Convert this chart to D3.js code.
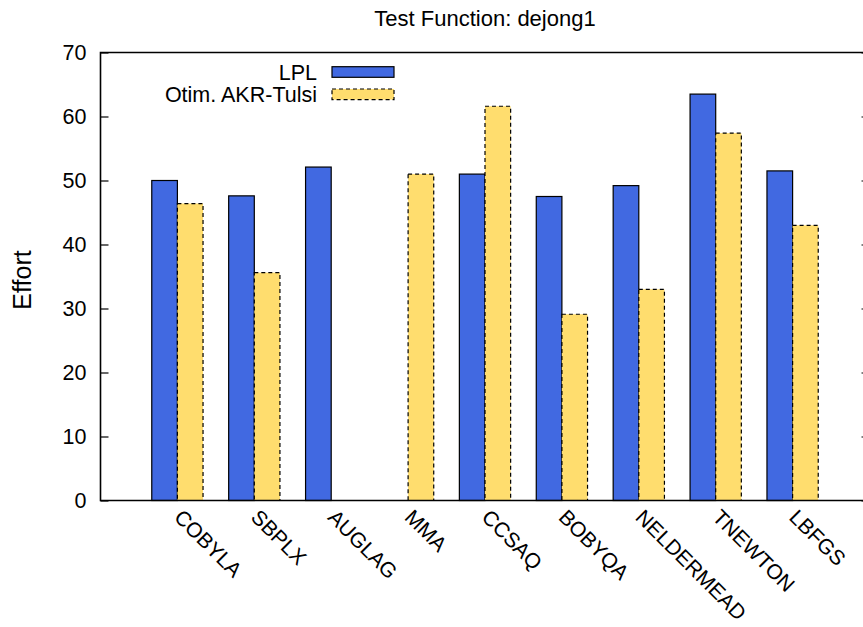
<!DOCTYPE html>
<html>
<head>
<meta charset="utf-8">
<script src="https://cdn.jsdelivr.net/npm/d3@7"></script>
<style>
  html, body { margin: 0; padding: 0; background: #fff; }
  svg { display: block; font-family: "Liberation Sans", Arial, Helvetica, sans-serif; }
</style>
</head>
<body>
<svg id="chart" width="863" height="627"></svg>
<script>
// Optimiser effort on the dejong1 test function
const categories = ["COBYLA", "SBPLX", "AUGLAG", "MMA", "CCSAQ", "BOBYQA", "NELDERMEAD", "TNEWTON", "LBFGS"];
const lplValues  = [50.0, 47.6, 52.1, null, 51.0, 47.5, 49.2, 63.5, 51.5];
const akrValues  = [46.4, 35.6, null, 51.0, 61.6, 29.1, 33.0, 57.4, 43.0];
const seriesNames = ["LPL", "Otim. AKR-Tulsi"];
const yTicks = [0, 10, 20, 30, 40, 50, 60, 70];
const titleText = "Test Function: dejong1";
const yLabelText = "Effort";

const svg = d3.select("#chart");
const plotL = 100.5, plotR = 869.5, plotT = 52.5, plotB = 500.5;

// histogram slots: one unit per category, axis spans [-1, n]
const x = d3.scaleLinear().domain([-1, categories.length]).range([plotL, plotR]);
const y = d3.scaleLinear().domain([0, 70]).range([plotB, plotT]);
const barW = (x(1) - x(0)) / 3;

const series = [
  { name: seriesNames[0], values: lplValues, fill: "#4169E1", dash: null, offset: -1 },
  { name: seriesNames[1], values: akrValues, fill: "#FFDD6E", dash: "4,3", offset: 0 }
];

// bars
series.forEach(s => {
  svg.append("g").selectAll("rect")
    .data(s.values.map((v, i) => ({ v, i })).filter(d => d.v !== null))
    .join("rect")
    .attr("x", d => x(d.i) + s.offset * barW)
    .attr("y", d => y(d.v))
    .attr("width", barW)
    .attr("height", d => y(0) - y(d.v))
    .attr("fill", s.fill)
    .attr("stroke", "#000")
    .attr("stroke-width", 1.2)
    .attr("stroke-dasharray", s.dash);
});

// border: left, bottom, top (right side runs off the canvas)
const border = svg.append("g").attr("stroke", "#000").attr("stroke-width", 1.6).attr("fill", "none");
border.append("path").attr("d", `M${plotR},${plotT}H${plotL}V${plotB}H${plotR}`);
border.append("path").attr("d", `M${plotR},${plotT}V${plotB}`);

// y axis ticks, mirrored on the right
const yAxisL = d3.axisLeft(y).tickValues(yTicks).tickSizeInner(-8).tickSizeOuter(0).tickPadding(14);
const gL = svg.append("g").attr("transform", `translate(${plotL},0)`).call(yAxisL);
gL.select(".domain").remove();
gL.selectAll("line").attr("stroke-width", 1.2);
gL.selectAll("text").attr("font-size", 21.5).attr("fill", "#000")
  .attr("font-family", "Liberation Sans, Arial, sans-serif");

const yAxisR = d3.axisRight(y).tickValues(yTicks).tickSizeInner(-8).tickSizeOuter(0).tickFormat("");
const gR = svg.append("g").attr("transform", `translate(${plotR},0)`).call(yAxisR);
gR.select(".domain").remove();
gR.selectAll("line").attr("stroke-width", 1.2);

// category labels, rotated
const xAxis = d3.axisBottom(x).tickValues(d3.range(categories.length))
  .tickFormat(i => categories[i]).tickSize(0).tickPadding(0);
const gX = svg.append("g").attr("transform", `translate(0,${plotB})`).call(xAxis);
gX.select(".domain").remove();
gX.selectAll("text")
  .attr("font-size", 21).attr("fill", "#000")
  .attr("font-family", "Liberation Sans, Arial, sans-serif")
  .attr("text-anchor", "start")
  .attr("dy", null).attr("y", null)
  .attr("transform", "translate(-5,18) rotate(45)");

// title
svg.append("text").attr("x", (plotL + plotR) / 2).attr("y", 26)
  .attr("text-anchor", "middle").attr("font-size", 22).text(titleText);

// y label
svg.append("text").attr("transform", "translate(31,280) rotate(-90)")
  .attr("text-anchor", "middle").attr("font-size", 25).text(yLabelText);

// legend
const legend = svg.append("g");
series.forEach((s, k) => {
  const cy = 72 + k * 22.3;
  legend.append("text").attr("x", 317).attr("y", cy + 7.6).attr("text-anchor", "end")
    .attr("font-size", 21.5).text(s.name);
  legend.append("rect").attr("x", 332).attr("y", cy - 5.3).attr("width", 62).attr("height", 10.6)
    .attr("fill", s.fill).attr("stroke", "#000").attr("stroke-width", 1.2)
    .attr("stroke-dasharray", s.dash);
});
</script>
</body>
</html>
